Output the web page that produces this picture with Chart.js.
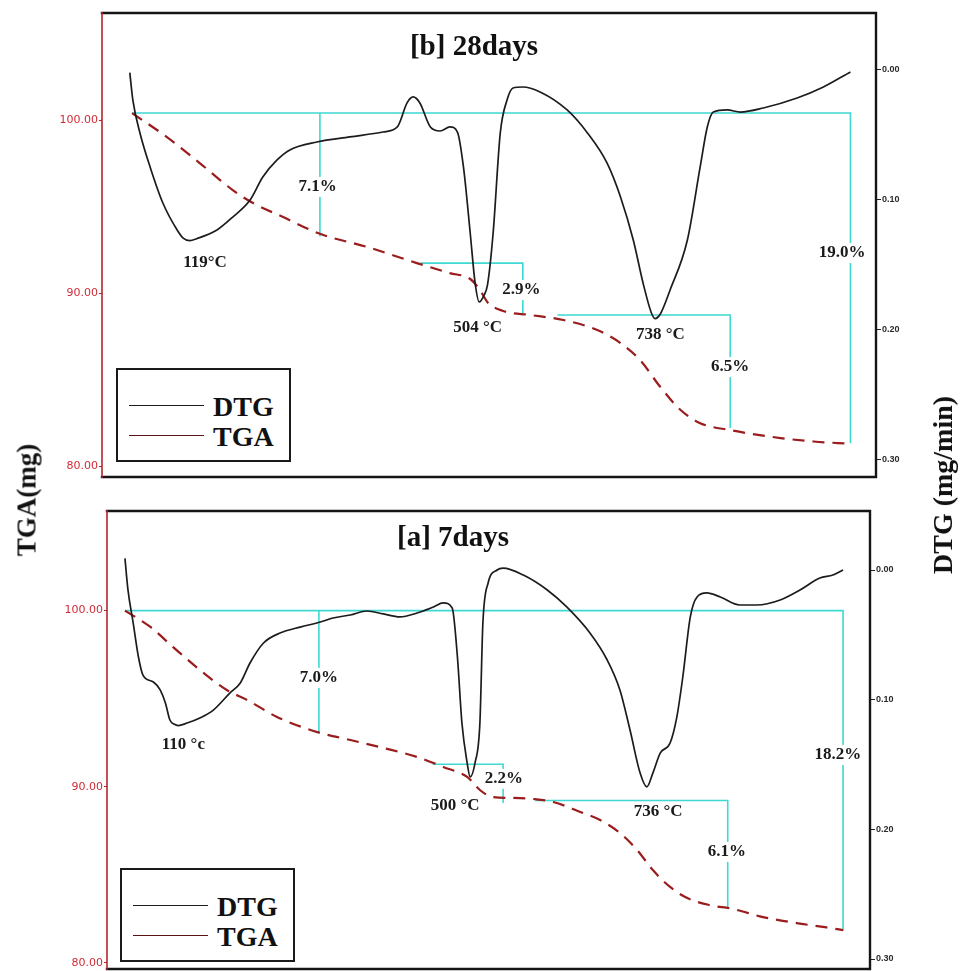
<!DOCTYPE html>
<html>
<head>
<meta charset="utf-8">
<script src="https://cdn.jsdelivr.net/npm/chart.js@4.4.1/dist/chart.umd.min.js"></script>
<style>
  html, body { margin: 0; padding: 0; background: #fff; }
  body { width: 961px; height: 971px; position: relative; overflow: hidden; }
  canvas { position: absolute; left: 0; }
  .title { position: absolute; font: bold 29px 'Liberation Serif', 'Times New Roman', serif; color: #111;
           white-space: nowrap; transform: translate(-50%, -50%); }
  .axis-title { position: absolute; font: bold 27px 'Liberation Serif', 'Times New Roman', serif; color: #111;
                white-space: nowrap; transform: translate(-50%, -50%) rotate(-90deg); }
  .legend { position: absolute; box-sizing: border-box; border: 2px solid #1a1a1a; background: #fff; z-index: 2; }
  .legend .row { position: absolute; left: 0; right: 0; height: 30px; }
  .legend .swatch { position: absolute; left: 11px; width: 75px; top: 14px; height: 0; border-top: 1.8px solid #111; }
  .legend .name { position: absolute; left: 95px; top: 0; line-height: 30px;
                  font: bold 28px 'Liberation Serif', 'Times New Roman', serif; color: #111; }
</style>
</head>
<body>
<canvas id="chart28" width="961" height="490" style="top:0"></canvas>
<canvas id="chart7" width="961" height="481" style="top:490px"></canvas>

<div class="title" style="left:474px; top:45px">[b] 28days</div>
<div class="title" style="left:453px; top:536px">[a] 7days</div>
<div class="axis-title" style="left:27px; top:500px">TGA(mg)</div>
<div class="axis-title" style="left:943px; top:485px; font-size:28px">DTG (mg/min)</div>

<script>
// ---------- [b] 28 days ----------
const dtgTemp28 = [39, 43, 52.5, 66, 83, 102, 110, 119, 128, 155, 176, 199, 216, 235, 252, 288, 332, 376, 395, 408, 416, 425, 439, 452, 465, 475, 483, 492, 498.5, 504, 510, 515, 522.5, 532, 541, 549, 562, 585, 621, 648, 674, 692, 709, 722, 733, 738, 745, 758, 781, 798, 807.5, 815.5, 834, 851.5, 882, 927, 962, 998];
const dtg28 = [0.002, 0.023, 0.0485, 0.0747, 0.1025, 0.1233, 0.1295, 0.1315, 0.1300, 0.1233, 0.1133, 0.1002, 0.0824, 0.0693, 0.0616, 0.0555, 0.0516, 0.0478, 0.0439, 0.0254, 0.0208, 0.0254, 0.0439, 0.0470, 0.0439, 0.0478, 0.0747, 0.1256, 0.1641, 0.1787, 0.1740, 0.1656, 0.1256, 0.0485, 0.0231, 0.0139, 0.0131, 0.0169, 0.0308, 0.0485, 0.0716, 0.0978, 0.1310, 0.1641, 0.1870, 0.1915, 0.1880, 0.1695, 0.1310, 0.0747, 0.0439, 0.0324, 0.0308, 0.0324, 0.0293, 0.0216, 0.0131, 0.0015];
const tgaTemp28 = [42, 88, 132, 176, 203, 243, 292, 355, 421, 465, 492, 505, 515, 536, 572, 616, 661, 692, 718, 745, 772, 798, 838, 905, 949, 998];
const tga28 = [100.43, 99.05, 97.54, 95.98, 95.23, 94.42, 93.45, 92.69, 91.76, 91.18, 90.84, 90.20, 89.50, 88.99, 88.76, 88.47, 87.89, 87.14, 86.16, 84.60, 83.27, 82.51, 82.11, 81.65, 81.45, 81.32];
const peaks28 = [119, 504, 738];
const lossPct28 = [7.1, 2.9, 6.5, 19.0];
const stepFrom28 = [292, 426, 608, 42];
const stepTo28 = [292, 562, 838, 998];
const stepTop28 = [100.43, 91.76, 88.76, 100.43];

// ---------- [a] 7 days ----------
const dtgTemp7 = [39, 43, 50, 57, 63, 77, 86, 93, 99, 105, 110, 122, 139, 157, 179, 193, 206, 224, 246, 273, 300, 317, 340, 362, 384, 406, 429, 451, 464, 476, 483, 489, 496, 500, 506.5, 513, 517, 524, 536, 544, 571, 603, 629, 660, 683, 700, 713.5, 727, 736, 744, 754, 767, 776, 784, 794, 803, 816, 834, 860, 883, 914, 940.5, 967, 984.5, 998];
const dtg7 = [-0.009, 0.0154, 0.0409, 0.0671, 0.0810, 0.0864, 0.0925, 0.1026, 0.1157, 0.1190, 0.1200, 0.1180, 0.1141, 0.1080, 0.0949, 0.0871, 0.0717, 0.0563, 0.0486, 0.0440, 0.0401, 0.0370, 0.0347, 0.0316, 0.0339, 0.0362, 0.0332, 0.0285, 0.0254, 0.0293, 0.0671, 0.1180, 0.1488, 0.1596, 0.1488, 0.1180, 0.0409, 0.0100, 0.0000, -0.0015, 0.0039, 0.0154, 0.0285, 0.0486, 0.0694, 0.0925, 0.1234, 0.1566, 0.1673, 0.1566, 0.1411, 0.1334, 0.1134, 0.0825, 0.0362, 0.0208, 0.0177, 0.0208, 0.0270, 0.0270, 0.0231, 0.0154, 0.0062, 0.0039, 0.0000];
const tgaTemp7 = [39, 73, 103, 139, 175, 202, 242, 296, 340, 384, 429, 464, 496, 513, 529, 557, 584, 611, 647, 673.5, 700, 723, 744, 767, 790, 820, 851, 891, 936, 976, 998];
const tga7 = [100.0, 99.07, 97.94, 96.63, 95.49, 94.93, 93.96, 93.10, 92.65, 92.20, 91.69, 91.12, 90.55, 89.81, 89.42, 89.36, 89.30, 89.13, 88.56, 88.10, 87.37, 86.40, 85.26, 84.30, 83.67, 83.27, 83.05, 82.59, 82.25, 82.00, 81.85];
const peaks7 = [110, 500, 736];
const lossPct7 = [7.0, 2.2, 6.1, 18.2];
const stepFrom7 = [298, 450, 587, 39];
const stepTo7 = [298, 544, 844, 998];
const stepTop7 = [100.0, 91.27, 89.21, 100.0];

// tick labels
const tgaTicks = [80, 90, 100];
const dtgTicks = [0.00, 0.10, 0.20, 0.30];

// ---------- styling ----------
const DTG_COLOR = '#1c1c1c';
const TGA_COLOR = '#9a1c1c';
const STEP_COLOR = '#3fd8d2';
const NOTE_FONT = "bold 17px 'Liberation Serif', 'Times New Roman', serif";

const zip = (xs, ys) => xs.map((x, i) => ({ x, y: ys[i] }));

// bracket that marks a mass-loss step: level line, then drop by the stated percentage
function stepLines(from, to, top, pct, m0) {
  return pct.map((p, i) => {
    const bottom = top[i] - p / 100 * m0;
    const pts = from[i] === to[i]
      ? [{ x: to[i], y: top[i] }, { x: to[i], y: bottom }]
      : [{ x: from[i], y: top[i] }, { x: to[i], y: top[i] }, { x: to[i], y: bottom }];
    return {
      label: 'step' + i, data: pts, yAxisID: 'y', borderColor: STEP_COLOR, borderWidth: 1.6,
      pointRadius: 0, tension: 0, fill: false
    };
  });
}

const notesPlugin = {
  id: 'notes',
  beforeDatasetDraw(chart, args, opts) {
    // white patches behind the step labels, painted over the brackets only
    if (args.index !== 1) return;
    const { ctx, scales } = chart;
    ctx.save();
    ctx.font = NOTE_FONT;
    ctx.fillStyle = '#fff';
    for (const n of opts.items) {
      if (!n.patch) continue;
      const px = scales.x.getPixelForValue(n.x), py = scales.y.getPixelForValue(n.y);
      const w = ctx.measureText(n.text).width;
      ctx.fillRect(px - w / 2 - 3, py - 10, w + 6, 20);
    }
    ctx.restore();
  },
  afterDatasetsDraw(chart, args, opts) {
    const { ctx, scales, chartArea: a } = chart;
    ctx.save();
    ctx.font = NOTE_FONT;
    ctx.fillStyle = '#1a1a1a';
    ctx.textAlign = 'center';
    ctx.textBaseline = 'middle';
    for (const n of opts.items) {
      ctx.fillText(n.text, scales.x.getPixelForValue(n.x), scales.y.getPixelForValue(n.y));
    }
    // plot frame
    ctx.lineCap = 'square';
    ctx.strokeStyle = '#151515';
    ctx.lineWidth = 2.4;
    ctx.beginPath();
    ctx.moveTo(a.left, a.top); ctx.lineTo(a.right, a.top); ctx.lineTo(a.right, a.bottom); ctx.lineTo(a.left, a.bottom);
    ctx.stroke();
    ctx.strokeStyle = '#b3262e';
    ctx.lineWidth = 1.6;
    ctx.beginPath();
    ctx.moveTo(a.left, a.top); ctx.lineTo(a.left, a.bottom);
    ctx.stroke();
    ctx.restore();
  }
};

function buildPanel(id, p) {
  const m0 = p.tga[0];
  const items = [];
  p.peaks.forEach((t, i) => items.push({ text: p.peakText[i].replace('#', t), x: p.peakAt[i][0], y: p.peakAt[i][1], patch: false }));
  p.pct.forEach((v, i) => items.push({ text: v.toFixed(1) + '%', x: p.pctAt[i][0], y: p.pctAt[i][1], patch: true }));

  return new Chart(document.getElementById(id), {
    type: 'line',
    data: {
      datasets: [
        { label: 'DTG', data: zip(p.dtgTemp, p.dtg), yAxisID: 'y1', borderColor: DTG_COLOR, borderWidth: 1.7,
          pointRadius: 0, cubicInterpolationMode: 'monotone', fill: false },
        { label: 'TGA', data: zip(p.tgaTemp, p.tga), yAxisID: 'y', borderColor: TGA_COLOR, borderWidth: 2.2,
          borderDash: [12, 8], pointRadius: 0, cubicInterpolationMode: 'monotone', fill: false },
        ...stepLines(p.from, p.to, p.top, p.pct, m0)
      ]
    },
    options: {
      responsive: false, animation: false, devicePixelRatio: 1,
      layout: { padding: { top: p.padTop, bottom: p.padBottom, left: 0, right: 0 } },
      plugins: { legend: { display: false }, tooltip: { enabled: false }, notes: { items } },
      scales: {
        x: { type: 'linear', display: false, min: p.xMin, max: p.xMax },
        y: {
          position: 'left', min: p.yMin, max: p.yMax,
          afterBuildTicks: s => { s.ticks = tgaTicks.map(v => ({ value: v })); },
          ticks: { color: '#cf2c38', padding: 1, font: { family: 'DejaVu Sans', size: 11 }, callback: v => v.toFixed(2) },
          grid: { drawOnChartArea: false, drawTicks: true, tickLength: 3, color: '#b3262e' },
          border: { display: false },
          afterFit: s => { s.width = p.leftW; s.paddingTop = 0; s.paddingBottom = 0; }
        },
        y1: {
          position: 'right', reverse: true, min: p.rMin, max: p.rMax,
          afterBuildTicks: s => { s.ticks = dtgTicks.map(v => ({ value: v })); },
          ticks: { color: '#2a2a2a', padding: 1, font: { family: 'Liberation Sans', size: 9, weight: 'bold' }, callback: v => v.toFixed(2) },
          grid: { drawOnChartArea: false, drawTicks: true, tickLength: 5, color: '#222' },
          border: { display: false },
          afterFit: s => { s.width = p.rightW; s.paddingTop = 0; s.paddingBottom = 0; }
        }
      }
    },
    plugins: [notesPlugin]
  });
}

buildPanel('chart28', {
  dtgTemp: dtgTemp28, dtg: dtg28, tgaTemp: tgaTemp28, tga: tga28,
  peaks: peaks28, peakText: ['#°C', '# °C', '# °C'],
  peakAt: [[139, 91.76], [502, 88.06], [745, 87.6]],
  pct: lossPct28, pctAt: [[289, 96.16], [560, 90.2], [838, 85.75], [987, 92.34]],
  from: stepFrom28, to: stepTo28, top: stepTop28,
  xMin: 2, xMax: 1032, yMin: 79.40, yMax: 106.21, rMin: -0.0439, rMax: 0.3136,
  leftW: 102, rightW: 85, padTop: 13, padBottom: 13
});

buildPanel('chart7', {
  dtgTemp: dtgTemp7, dtg: dtg7, tgaTemp: tgaTemp7, tga: tga7,
  peaks: peaks7, peakText: ['# °c', '# °C', '# °C'],
  peakAt: [[117, 92.37], [480, 88.9], [751, 88.56]],
  pct: lossPct7, pctAt: [[298, 96.18], [545, 90.44], [843, 86.29], [991, 91.8]],
  from: stepFrom7, to: stepTo7, top: stepTop7,
  xMin: 15, xMax: 1034, yMin: 79.64, yMax: 105.66, rMin: -0.0455, rMax: 0.3077,
  leftW: 107, rightW: 91, padTop: 21, padBottom: 2
});

// legends
function addLegend(left, top) {
  const box = document.createElement('div');
  box.className = 'legend';
  Object.assign(box.style, { left: left + 'px', top: top + 'px', width: '175px', height: '94px' });
  [['DTG', DTG_COLOR, 21], ['TGA', '#5a1414', 51]].forEach(([name, color, y]) => {
    const row = document.createElement('div');
    row.className = 'row';
    row.style.top = y + 'px';
    const sw = document.createElement('div');
    sw.className = 'swatch';
    sw.style.borderTopColor = color;
    const tx = document.createElement('div');
    tx.className = 'name';
    tx.textContent = name;
    row.append(sw, tx);
    box.append(row);
  });
  document.body.append(box);
}
addLegend(116, 368);
addLegend(120, 868);
</script>
</body>
</html>
